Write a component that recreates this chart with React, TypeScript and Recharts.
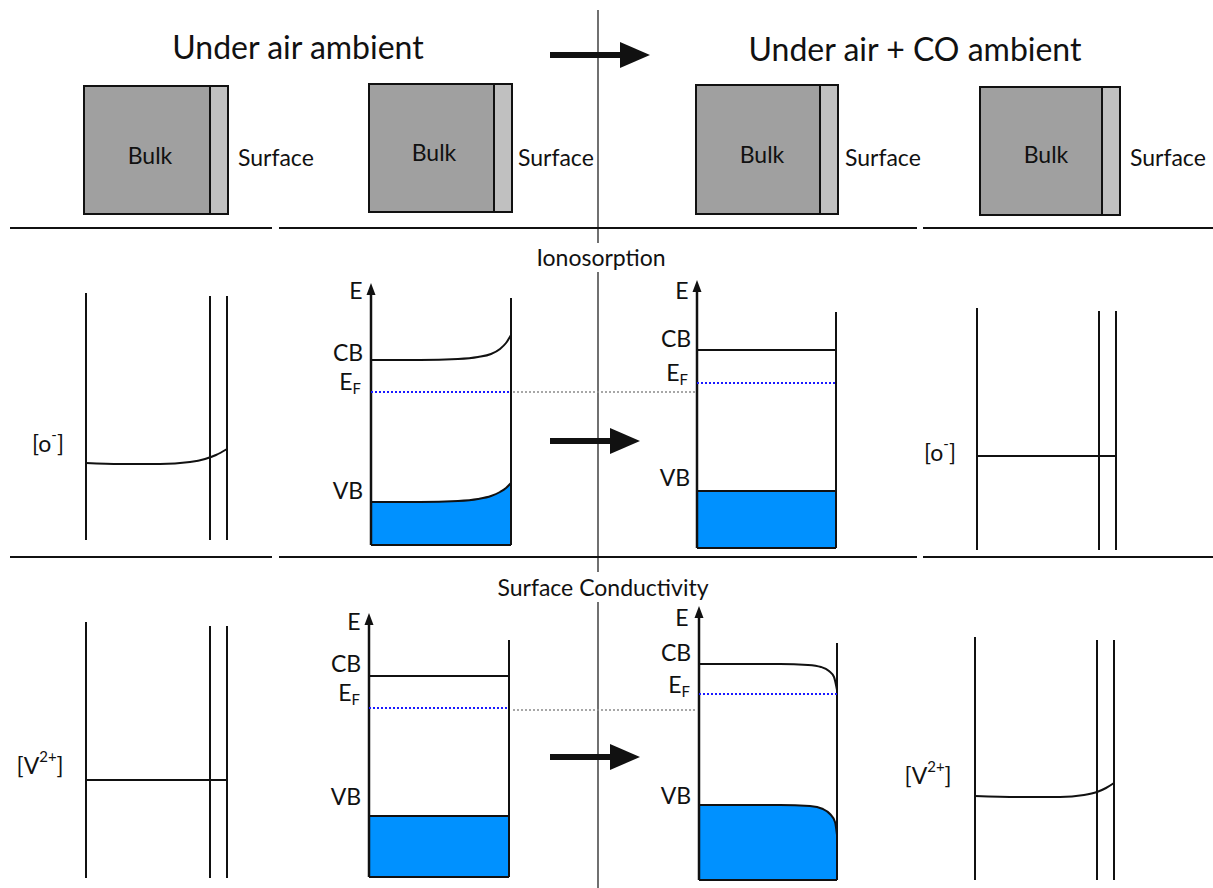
import React from "react";
import { ComposedChart, XAxis, YAxis, ReferenceLine, ReferenceArea, ReferenceDot, Line, Area } from "recharts";

// diagram is drawn in pixel-like units: x 0..1213, y 0..888 (y grows downwards)
const W = 1213;
const H = 888;
const FONT = "Lato, 'Open Sans', sans-serif";
const INK = "#111";
const BLUE = "#0091ff";

const headings = [
  { x: 298, y: 46, text: "Under air ambient", size: 32 },
  { x: 915, y: 48, text: "Under air + CO ambient", size: 32 },
  { x: 601, y: 257, text: "Ionosorption", size: 23 },
  { x: 603, y: 587, text: "Surface Conductivity", size: 23 },
];

// bulk block with thin surface layer on the right
const blocks = [
  { x1: 84, x2: 228, y1: 86, y2: 214, strip: 210 },
  { x1: 369, x2: 512, y1: 84, y2: 212, strip: 494 },
  { x1: 696, x2: 838, y1: 85, y2: 214, strip: 820 },
  { x1: 980, x2: 1120, y1: 87, y2: 215, strip: 1102 },
];

const labels = [
  { x: 150, y: 155, text: "Bulk", anchor: "middle" },
  { x: 238, y: 157, text: "Surface", anchor: "start" },
  { x: 434, y: 152, text: "Bulk", anchor: "middle" },
  { x: 518, y: 157, text: "Surface", anchor: "start" },
  { x: 762, y: 154, text: "Bulk", anchor: "middle" },
  { x: 845, y: 157, text: "Surface", anchor: "start" },
  { x: 1046, y: 154, text: "Bulk", anchor: "middle" },
  { x: 1130, y: 157, text: "Surface", anchor: "start" },
  // ionosorption row
  { x: 48, y: 443, text: "[o^{-}]", anchor: "middle" },
  { x: 356, y: 290, text: "E", anchor: "middle" },
  { x: 348, y: 352, text: "CB", anchor: "middle" },
  { x: 350, y: 381, text: "E_{F}", anchor: "middle" },
  { x: 348, y: 490, text: "VB", anchor: "middle" },
  { x: 682, y: 290, text: "E", anchor: "middle" },
  { x: 676, y: 338, text: "CB", anchor: "middle" },
  { x: 677, y: 372, text: "E_{F}", anchor: "middle" },
  { x: 675, y: 477, text: "VB", anchor: "middle" },
  { x: 940, y: 452, text: "[o^{-}]", anchor: "middle" },
  // surface conductivity row
  { x: 40, y: 765, text: "[V^{2+}]", anchor: "middle" },
  { x: 354, y: 621, text: "E", anchor: "middle" },
  { x: 346, y: 663, text: "CB", anchor: "middle" },
  { x: 349, y: 692, text: "E_{F}", anchor: "middle" },
  { x: 346, y: 796, text: "VB", anchor: "middle" },
  { x: 682, y: 617, text: "E", anchor: "middle" },
  { x: 676, y: 652, text: "CB", anchor: "middle" },
  { x: 679, y: 684, text: "E_{F}", anchor: "middle" },
  { x: 676, y: 795, text: "VB", anchor: "middle" },
  { x: 928, y: 775, text: "[V^{2+}]", anchor: "middle" },
];

// plain straight strokes [x1, y1, x2, y2, width]
const segments = [
  // centre line, interrupted by the row titles
  [598, 10, 598, 243, 1.2],
  [598, 272, 598, 572, 1.2],
  [598, 602, 598, 888, 1.2],
  // row dividers
  [10, 228, 272, 228, 2],
  [279, 228, 917, 228, 2],
  [923, 228, 1213, 228, 2],
  [10, 557, 272, 557, 2],
  [279, 557, 917, 557, 2],
  [923, 557, 1213, 557, 2],
  // concentration panels, ionosorption
  [86, 293, 86, 540, 2],
  [210, 296, 210, 540, 2],
  [227, 296, 227, 540, 2],
  [977, 308, 977, 550, 2],
  [1099, 311, 1099, 550, 2],
  [1116, 311, 1116, 550, 2],
  [977, 456, 1116, 456, 2],
  // concentration panels, conductivity
  [86, 622, 86, 878, 2],
  [210, 626, 210, 878, 2],
  [227, 626, 227, 878, 2],
  [86, 780, 227, 780, 2],
  [975, 637, 975, 880, 2],
  [1097, 640, 1097, 880, 2],
  [1114, 640, 1114, 880, 2],
  // band-diagram right walls
  [511, 298, 511, 545, 2],
  [836, 312, 836, 548, 2],
  [509, 640, 509, 877, 2],
  [837, 643, 837, 880, 2],
  // flat conduction bands
  [697, 350, 836, 350, 2],
  [369, 676, 509, 676, 2],
];

// energy axes with arrowhead at the top
const energyAxes = [
  { x: 371, y1: 545, y2: 283 },
  { x: 697, y1: 548, y2: 280 },
  { x: 369, y1: 877, y2: 613 },
  { x: 699, y1: 880, y2: 606 },
];

// Fermi level (blue) and reference level (grey) dotted lines
const fermiLines = [
  { x1: 371, x2: 511, y: 392 },
  { x1: 697, x2: 836, y: 383 },
  { x1: 369, x2: 509, y: 708 },
  { x1: 699, x2: 837, y: 694 },
];
const refLines = [
  { x1: 513, x2: 695, y: 392 },
  { x1: 513, x2: 695, y: 710 },
];

// curved profiles
const oxygenAir = [
  { x: 86, y: 463 }, { x: 120, y: 464 }, { x: 160, y: 464 }, { x: 190, y: 462 },
  { x: 205, y: 459 }, { x: 216, y: 455 }, { x: 227, y: 449 },
];
const vacancyCO = [
  { x: 975, y: 796 }, { x: 1020, y: 797 }, { x: 1060, y: 797 }, { x: 1084, y: 795 },
  { x: 1097, y: 792 }, { x: 1106, y: 788 }, { x: 1114, y: 783 },
];
const cbIonoAir = [
  { x: 371, y: 360 }, { x: 420, y: 360 }, { x: 458, y: 359 }, { x: 478, y: 357 },
  { x: 491, y: 354 }, { x: 500, y: 349 }, { x: 506, y: 343 }, { x: 511, y: 335 },
];
const cbCondCO = [
  { x: 699, y: 664 }, { x: 780, y: 664 }, { x: 808, y: 665 }, { x: 821, y: 667 },
  { x: 829, y: 671 }, { x: 834, y: 677 }, { x: 837, y: 690 },
];

// filled valence bands [bottom, top]
const vbIonoAir = [
  { x: 371, v: [545, 502] }, { x: 420, v: [545, 502] }, { x: 458, v: [545, 501] }, { x: 478, v: [545, 499] },
  { x: 491, v: [545, 496] }, { x: 500, v: [545, 492] }, { x: 506, v: [545, 488] }, { x: 511, v: [545, 483] },
];
const vbIonoCO = [
  { x: 697, v: [548, 491] }, { x: 836, v: [548, 491] },
];
const vbCondAir = [
  { x: 369, v: [877, 816] }, { x: 509, v: [877, 816] },
];
const vbCondCO = [
  { x: 699, v: [880, 805] }, { x: 780, v: [880, 805] }, { x: 810, v: [880, 806] }, { x: 823, v: [880, 809] },
  { x: 830, v: [880, 814] }, { x: 835, v: [880, 822] }, { x: 837, v: [880, 835] },
];

// thick transition arrows
const arrows = [
  { x1: 550, x2: 650, y: 55 },
  { x1: 550, x2: 640, y: 441 },
  { x1: 550, x2: 640, y: 757 },
];

function RichText({ x, y, text, size, anchor }: any) {
  const parts: { t: string; kind: string }[] = [];
  const re = /(_|\^)\{([^}]*)\}/g;
  let last = 0;
  let m;
  while ((m = re.exec(text))) {
    if (m.index > last) parts.push({ t: text.slice(last, m.index), kind: "n" });
    parts.push({ t: m[2], kind: m[1] === "_" ? "sub" : "sup" });
    last = m.index + m[0].length;
  }
  if (last < text.length) parts.push({ t: text.slice(last), kind: "n" });
  let shift = 0;
  return (
    <text x={x} y={y} textAnchor={anchor} dominantBaseline="central" fontFamily={FONT} fontSize={size} fill={INK}>
      {parts.map((p, i) => {
        const target = p.kind === "sub" ? size * 0.3 : p.kind === "sup" ? -size * 0.4 : 0;
        const dy = target - shift;
        shift = target;
        return (
          <tspan key={i} dy={dy} fontSize={p.kind === "n" ? size : size * 0.65}>
            {p.t}
          </tspan>
        );
      })}
    </text>
  );
}

const band = (data: any[], key: string) => (
  <Line
    key={key}
    data={data}
    dataKey="y"
    type="monotone"
    stroke={INK}
    strokeWidth={2}
    dot={false}
    activeDot={false}
    isAnimationActive={false}
  />
);

const fill = (data: any[], key: string) => (
  <Area
    key={key}
    data={data}
    dataKey="v"
    type="monotone"
    fill={BLUE}
    fillOpacity={1}
    stroke={INK}
    strokeWidth={2}
    dot={false}
    activeDot={false}
    isAnimationActive={false}
  />
);

export default function App() {
  return (
    <div style={{ width: W, height: H, background: "#fff" }}>
      <style>{"body{margin:0}"}</style>
      <ComposedChart width={W} height={H} margin={{ top: 0, right: 0, bottom: 0, left: 0 }}>
        <XAxis type="number" dataKey="x" domain={[0, W]} allowDataOverflow hide />
        <YAxis type="number" domain={[0, H]} reversed allowDataOverflow hide />

        {blocks.map((b, i) => (
          <ReferenceArea key={`bulk${i}`} x1={b.x1} x2={b.strip} y1={b.y1} y2={b.y2} fill="#a0a0a0" fillOpacity={1} stroke={INK} strokeWidth={2} ifOverflow="visible" />
        ))}
        {blocks.map((b, i) => (
          <ReferenceArea key={`surf${i}`} x1={b.strip} x2={b.x2} y1={b.y1} y2={b.y2} fill="#c0c0c0" fillOpacity={1} stroke={INK} strokeWidth={2} ifOverflow="visible" />
        ))}

        {fill(vbIonoAir, "f1")}
        {fill(vbIonoCO, "f2")}
        {fill(vbCondAir, "f3")}
        {fill(vbCondCO, "f4")}

        {segments.map((s, i) => (
          <ReferenceLine key={`s${i}`} segment={[{ x: s[0], y: s[1] }, { x: s[2], y: s[3] }]} stroke={INK} strokeWidth={s[4]} ifOverflow="visible" />
        ))}

        {energyAxes.map((a, i) => (
          <ReferenceLine key={`ax${i}`} segment={[{ x: a.x, y: a.y1 }, { x: a.x, y: a.y2 + 8 }]} stroke={INK} strokeWidth={2.5} ifOverflow="visible" />
        ))}
        {energyAxes.map((a, i) => (
          <ReferenceDot
            key={`axh${i}`}
            x={a.x}
            y={a.y2}
            r={0}
            ifOverflow="visible"
            shape={(p: any) => <polygon points={`${p.cx},${p.cy} ${p.cx - 4.5},${p.cy + 12} ${p.cx + 4.5},${p.cy + 12}`} fill={INK} />}
          />
        ))}

        {refLines.map((l, i) => (
          <ReferenceLine key={`r${i}`} segment={[{ x: l.x1, y: l.y }, { x: l.x2, y: l.y }]} stroke="#8a8a8a" strokeWidth={1.5} strokeDasharray="2 2" ifOverflow="visible" />
        ))}
        {fermiLines.map((l, i) => (
          <ReferenceLine key={`ef${i}`} segment={[{ x: l.x1, y: l.y }, { x: l.x2, y: l.y }]} stroke="#1a1aff" strokeWidth={2} strokeDasharray="2 2" ifOverflow="visible" />
        ))}

        {band(oxygenAir, "c1")}
        {band(vacancyCO, "c2")}
        {band(cbIonoAir, "c3")}
        {band(cbCondCO, "c4")}

        {arrows.map((a, i) => (
          <ReferenceLine key={`ar${i}`} segment={[{ x: a.x1, y: a.y }, { x: a.x2 - 28, y: a.y }]} stroke={INK} strokeWidth={6} ifOverflow="visible" />
        ))}
        {arrows.map((a, i) => (
          <ReferenceDot
            key={`arh${i}`}
            x={a.x2}
            y={a.y}
            r={0}
            ifOverflow="visible"
            shape={(p: any) => <polygon points={`${p.cx},${p.cy} ${p.cx - 30},${p.cy - 13} ${p.cx - 30},${p.cy + 13}`} fill={INK} />}
          />
        ))}

        {headings.map((h, i) => (
          <ReferenceDot key={`h${i}`} x={h.x} y={h.y} r={0} ifOverflow="visible" shape={(p: any) => <RichText x={p.cx} y={p.cy} text={h.text} size={h.size} anchor="middle" />} />
        ))}
        {labels.map((l, i) => (
          <ReferenceDot key={`l${i}`} x={l.x} y={l.y} r={0} ifOverflow="visible" shape={(p: any) => <RichText x={p.cx} y={p.cy} text={l.text} size={23} anchor={l.anchor} />} />
        ))}
      </ComposedChart>
    </div>
  );
}
